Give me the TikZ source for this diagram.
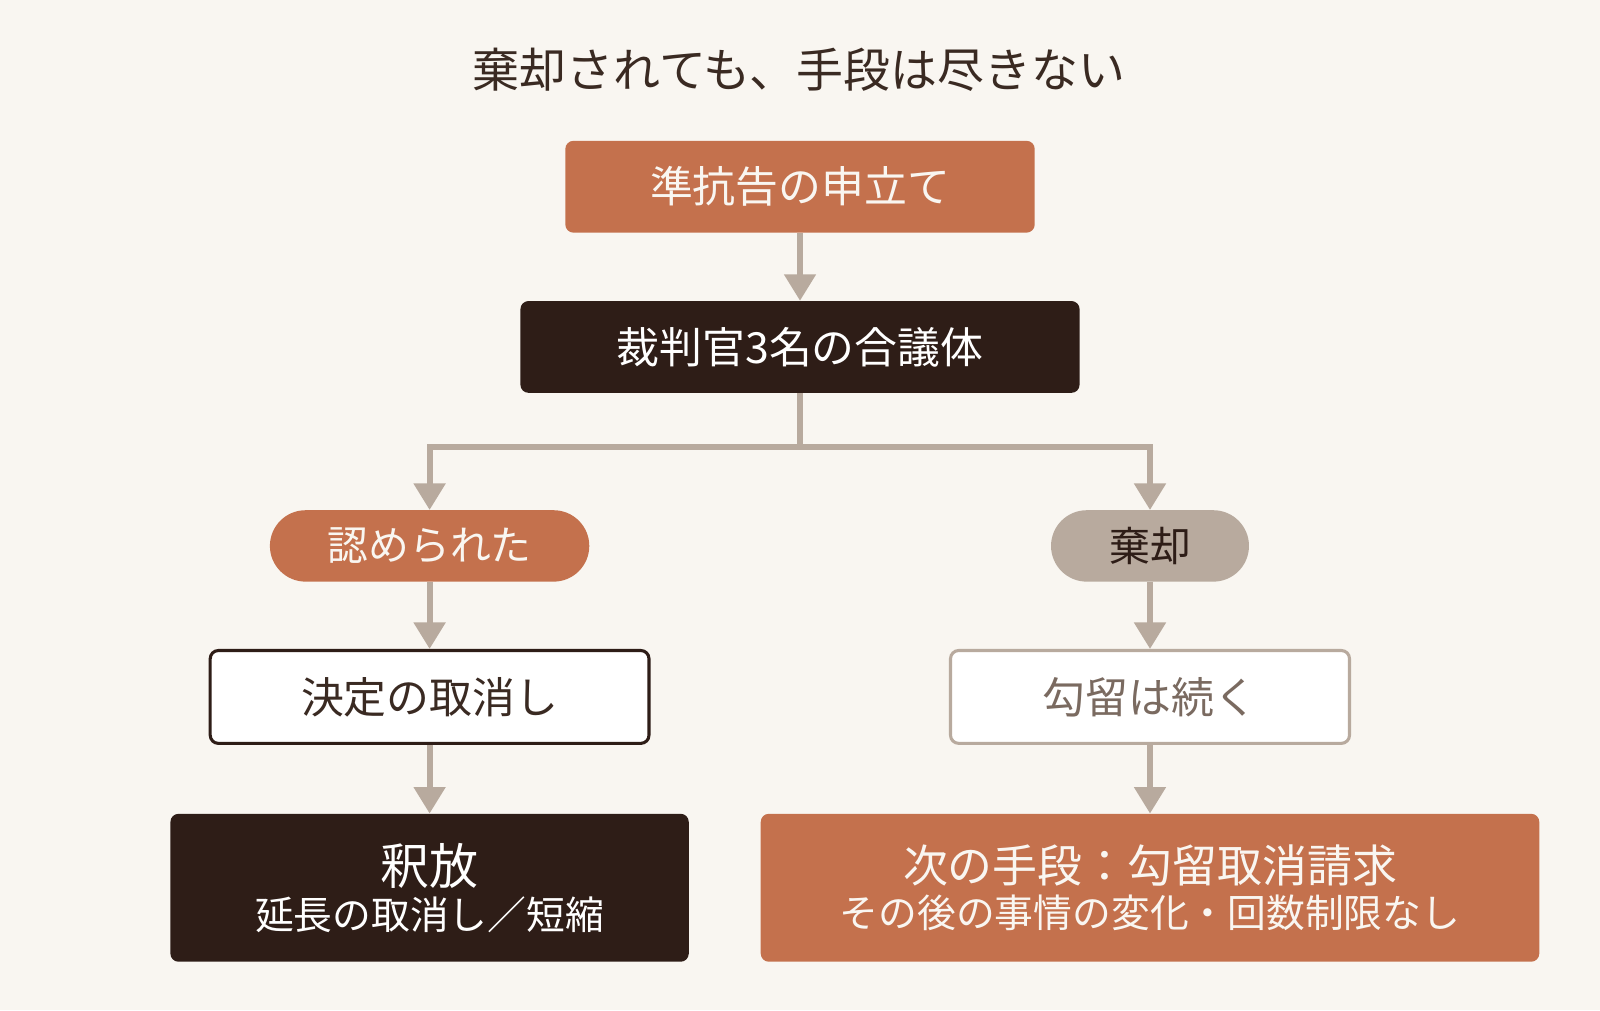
\documentclass[tikz,border=0pt]{standalone}
\usepackage{fontspec}
\setmainfont{Noto Sans CJK JP}
\usetikzlibrary{arrows.meta}
\definecolor{bgc}{HTML}{F9F6F1}
\definecolor{rust}{HTML}{C4714D}
\definecolor{dark}{HTML}{2E1D17}
\definecolor{taupe}{HTML}{B8AA9E}
\definecolor{ink}{HTML}{3A2A22}
\definecolor{greyink}{HTML}{7A6A60}
\tikzset{
  box/.style={rounded corners=8pt,minimum height=90pt,font=\fontsize{42}{50}\selectfont,inner sep=0pt},
  pill/.style={rounded corners=35pt,minimum height=70pt,font=\fontsize{40}{48}\selectfont,inner sep=0pt},
  flow/.style={draw=taupe,line width=6pt,-{Triangle[length=26pt,width=30pt]}},
}
\begin{document}
\begin{tikzpicture}[x=1pt,y=-1pt]
\fill[bgc] (0,0) rectangle (1568,990);
\useasboundingbox (0,0) rectangle (1568,990);
% title
\node[text=ink,font=\fontsize{46}{54}\selectfont] (title) at (783,68) {棄却されても、手段は尽きない};
% top of the flow
\node[box,fill=rust,text=bgc,minimum width=460pt] (appeal) at (784,183) {準抗告の申立て};
\node[box,fill=dark,text=white,minimum width=548pt] (court) at (784,340) {裁判官3名の合議体};
% the two outcomes
\node[pill,fill=rust,text=bgc,minimum width=313pt] (granted) at (421,535) {認められた};
\node[pill,fill=taupe,text=dark,minimum width=194pt] (dismissed) at (1127,535) {棄却};
\node[box,fill=white,draw=dark,line width=3pt,text=ink,minimum width=430pt,minimum height=91pt] (revoke) at (421,683) {決定の取消し};
\node[box,fill=white,draw=taupe,line width=3pt,text=greyink,minimum width=391pt,minimum height=91pt] (continue) at (1127,683) {勾留は続く};
\node[box,fill=dark,text=white,minimum width=508pt,minimum height=145pt,align=center] (release) at (421,870)
  {{\fontsize{48}{56}\selectfont 釈放}\\[-6pt]{\fontsize{38}{50}\selectfont 延長の取消し／短縮}};
\node[box,fill=rust,text=bgc,minimum width=763pt,minimum height=145pt,align=center] (next) at (1127,870)
  {{\fontsize{44}{54}\selectfont 次の手段：勾留取消請求}\\[-6pt]{\fontsize{38}{50}\selectfont その後の事情の変化・回数制限なし}};
% connectors
\coordinate (split) at (784,438);
\draw[flow] (appeal) -- (court);
\draw[draw=taupe,line width=6pt] (court) -- (split);
\draw[flow] (split) -| (granted);
\draw[flow] (split) -| (dismissed);
\draw[flow] (granted) -- (revoke);
\draw[flow] (dismissed) -- (continue);
\draw[flow] (revoke) -- (release);
\draw[flow] (continue) -- (next);
\end{tikzpicture}
\end{document}
